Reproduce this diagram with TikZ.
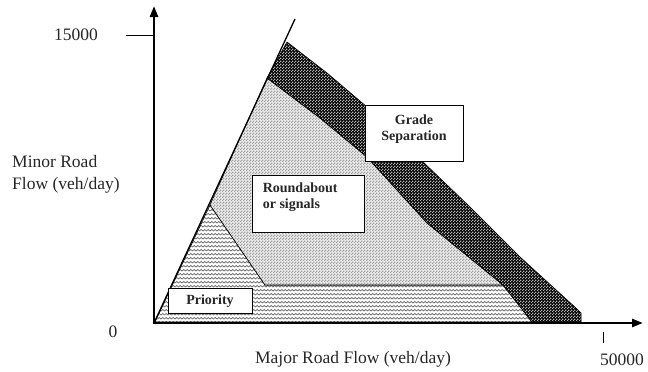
\documentclass[tikz,border=0pt]{standalone}
\usepackage{fontspec}
\setmainfont{Liberation Serif}
\usetikzlibrary{patterns,arrows.meta}
\pgfdeclarepatternformonly{checkdots}{\pgfpointorigin}{\pgfqpoint{3pt}{3pt}}{\pgfqpoint{3pt}{3pt}}{%
  \pgfpathrectangle{\pgfpointorigin}{\pgfqpoint{1.5pt}{1.5pt}}%
  \pgfpathrectangle{\pgfqpoint{1.5pt}{1.5pt}}{\pgfqpoint{1.5pt}{1.5pt}}%
  \pgfusepath{fill}}
\pgfdeclarepatternformonly{zigzag}{\pgfqpoint{-1pt}{-1pt}}{\pgfqpoint{4.5pt}{5pt}}{\pgfqpoint{3.5pt}{4pt}}{%
  \pgfsetlinewidth{0.85pt}%
  \pgfpathmoveto{\pgfqpoint{0pt}{1pt}}%
  \pgfpathlineto{\pgfqpoint{1.75pt}{2.5pt}}%
  \pgfpathlineto{\pgfqpoint{3.5pt}{1pt}}%
  \pgfusepath{stroke}}
\begin{document}
\begin{tikzpicture}[x=1pt,y=-1pt,
  axis/.style={line width=2.6pt,-{Triangle[length=11pt,width=8pt]}},
  region/.style={draw=black,line width=0.6pt},
  priorityfill/.style={region,preaction={fill=white},pattern=zigzag,pattern color=black!55},
  roundfill/.style={region,preaction={fill=gray!15},pattern=checkdots,pattern color=gray!75},
  gradefill/.style={region,preaction={fill=black},pattern=checkdots,pattern color=black!30},
  box/.style={draw=black,line width=0.8pt,fill=white,inner sep=0pt},
  boxtext/.style={font=\bfseries\fontsize{14}{16}\selectfont,align=left,inner sep=0pt,text=black!85},
  lbl/.style={font=\fontsize{17.5}{22}\selectfont,inner sep=0pt,align=left,text=black!85}]
\useasboundingbox (0,0) rectangle (648,372);
% coordinates
\coordinate (O) at (154,323);
\coordinate (ytop) at (154,6);
\coordinate (xend) at (643,323);
\coordinate (diagtop) at (295,19);
% priority region
\path[priorityfill] (155,322) -- (210,205) -- (265,285) -- (503,285) -- (532,322) -- cycle;
% roundabout region
\path[roundfill] (210,205) -- (267,78) -- (320,118) -- (367,157) -- (427,223) -- (503,285) -- (265,285) -- cycle;
% grade separation region
\path[gradefill] (267,78) -- (287,42) -- (327,73) -- (367,107) -- (422,161) -- (470,207) -- (520,257) -- (577,309) -- (581,313) -- (581,322) -- (532,322) -- (503,285) -- (427,223) -- (367,157) -- (320,118) -- cycle;
% diagonal boundary
\draw[line width=1.3pt] (O) -- (diagtop);
% axes
\draw[axis] (O) -- (ytop);
\draw[axis] ([xshift=-1.3pt]O) -- (xend);
% ticks
\coordinate (ytick1) at (126,35);
\coordinate (ytick2) at (154,35);
\draw[line width=0.8pt] (ytick1) -- (ytick2);
\coordinate (xtick1) at (603,332);
\coordinate (xtick2) at (603,343);
\draw[line width=0.8pt] (xtick1) -- (xtick2);
% axis labels
\node[lbl] (l15000) at (76,35) {15000};
\node[lbl] (l0) at (113,332) {0};
\node[lbl,anchor=west] (l50000) at (600,360) {50000};
\node[lbl,anchor=west] (ylab) at (12,174) {Minor Road\\Flow (veh/day)};
\node[lbl] (xlab) at (353,359) {Major Road Flow (veh/day)};
% boxes
\node[box,minimum width=98pt,minimum height=56pt] (gs) at (414,133) {};
\node[boxtext,align=center] (gst) at ([yshift=4pt]gs.center) {Grade\\Separation};
\node[box,minimum width=112pt,minimum height=57pt] (rb) at (308,203.5) {};
\node[boxtext,anchor=west] (rbt) at ([xshift=11pt,yshift=6.5pt]rb.west) {Roundabout\\or signals};
\node[box,minimum width=84pt,minimum height=25pt] (pr) at (210,300.5) {};
\node[boxtext] (prt) at ([yshift=-1pt]pr.center) {Priority};
\end{tikzpicture}
\end{document}
